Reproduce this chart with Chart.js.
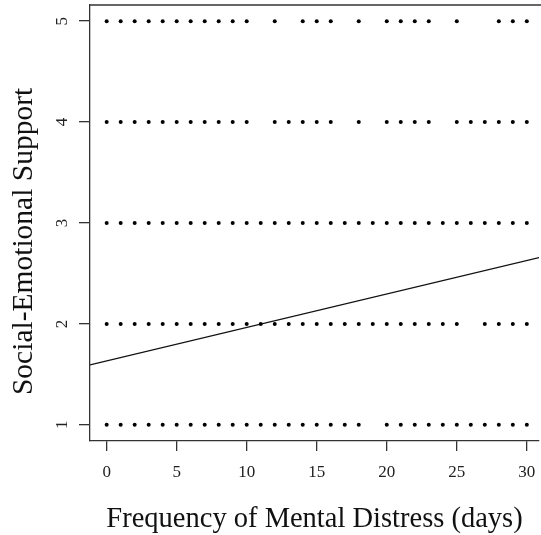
<!DOCTYPE html>
<html>
<head>
<meta charset="utf-8">
<title>Social-Emotional Support vs Mental Distress</title>
<script src="https://cdn.jsdelivr.net/npm/chart.js@4"></script>
<style>
    html, body { margin: 0; padding: 0; background: #fff; overflow: hidden; }
    #wrap { width: 541px; height: 535px; position: relative; }
</style>
</head>
<body>
<div id="wrap"><canvas id="scatterChart"></canvas></div>
<script>
// Days (x) observed at each support level (y)
const level5Days = [0, 1, 2, 3, 4, 5, 6, 7, 8, 9, 10, 12, 14, 15, 16, 18, 20, 21, 22, 23, 25, 28, 29, 30];
const level4Days = [0, 1, 2, 3, 4, 5, 6, 7, 8, 9, 10, 12, 13, 14, 15, 16, 18, 20, 21, 22, 23, 25, 26, 27, 28, 29, 30];
const level3Days = [0, 1, 2, 3, 4, 5, 6, 7, 8, 9, 10, 11, 12, 13, 14, 15, 16, 17, 18, 19, 20, 21, 22, 23, 24, 25, 26, 27, 28, 29, 30];
const level2Days = [0, 1, 2, 3, 4, 5, 6, 7, 8, 9, 10, 11, 12, 13, 14, 15, 16, 17, 18, 19, 20, 21, 22, 23, 24, 25, 27, 28, 29, 30];
const level1Days = [0, 1, 2, 3, 4, 5, 6, 7, 8, 9, 10, 11, 12, 13, 14, 15, 16, 17, 18, 20, 21, 22, 23, 24, 25, 26, 27, 28, 29, 30];

const supportLevels = [5, 4, 3, 2, 1];
const daysByLevel = [level5Days, level4Days, level3Days, level2Days, level1Days];

// Fitted regression line, read at the plot edges
const fitX = [-1.19, 30.87];
const fitY = [1.595, 2.657];

const xTicks = [0, 5, 10, 15, 20, 25, 30];
const yTicks = [1, 2, 3, 4, 5];

const SERIF = "'Liberation Serif', 'Times New Roman', serif";
const AXIS_COLOR = '#333';

document.addEventListener('DOMContentLoaded', function() {
    initScatterChart();
});

// draws the top edge of the box (left / bottom come from the axes)
const boxTopPlugin = {
    id: 'boxTop',
    afterDatasetsDraw(chart) {
        const { ctx, chartArea } = chart;
        ctx.save();
        ctx.strokeStyle = AXIS_COLOR;
        ctx.lineWidth = 1.3;
        ctx.beginPath();
        ctx.moveTo(chartArea.left, chartArea.top);
        ctx.lineTo(chartArea.right + 2, chartArea.top);
        ctx.stroke();
        ctx.restore();
    }
};

function initScatterChart() {
    const ctx = document.getElementById('scatterChart').getContext('2d');

    const pointSets = supportLevels.map((level, i) => ({
        type: 'scatter',
        label: 'Support ' + level,
        data: daysByLevel[i].map(d => ({ x: d, y: level })),
        backgroundColor: '#000',
        borderWidth: 0,
        pointRadius: 2,
        pointHoverRadius: 2
    }));

    new Chart(ctx, {
        data: {
            datasets: [
                ...pointSets,
                {
                    type: 'line',
                    label: 'Fit',
                    data: fitX.map((x, i) => ({ x: x, y: fitY[i] })),
                    borderColor: '#111',
                    borderWidth: 1.3,
                    pointRadius: 0,
                    fill: false
                }
            ]
        },
        options: {
            responsive: true,
            maintainAspectRatio: false,
            animation: false,
            layout: {
                padding: { top: 5, right: 0, bottom: 0, left: 0 }
            },
            plugins: {
                legend: { display: false },
                tooltip: { enabled: false }
            },
            scales: {
                x: {
                    type: 'linear',
                    min: -1.19,
                    max: 30.87,
                    afterBuildTicks: s => { s.ticks = xTicks.map(v => ({ value: v })); },
                    afterFit: s => {
                        s.height = 94;
                        s.paddingLeft = 0;
                        s.paddingRight = 0;
                    },
                    grid: {
                        drawOnChartArea: false,
                        tickLength: 10,
                        color: AXIS_COLOR,
                        lineWidth: 1.3
                    },
                    border: { display: true, color: AXIS_COLOR, width: 1.3 },
                    ticks: {
                        maxRotation: 0,
                        padding: 11,
                        color: '#222',
                        font: { family: SERIF, size: 17 }
                    },
                    title: {
                        display: true,
                        text: 'Frequency of Mental Distress (days)',
                        color: '#111',
                        font: { family: SERIF, size: 28.5, lineHeight: 1 },
                        padding: { top: 0, bottom: 1 }
                    }
                },
                y: {
                    type: 'linear',
                    min: 0.84,
                    max: 5.16,
                    afterBuildTicks: s => { s.ticks = yTicks.map(v => ({ value: v })); },
                    afterFit: s => {
                        s.width = 90;
                        s.paddingTop = 0;
                        s.paddingBottom = 0;
                    },
                    grid: {
                        drawOnChartArea: false,
                        tickLength: 11,
                        color: AXIS_COLOR,
                        lineWidth: 1.3
                    },
                    border: { display: true, color: AXIS_COLOR, width: 1.3 },
                    ticks: {
                        minRotation: 90,
                        maxRotation: 90,
                        crossAlign: 'center',
                        padding: 12.5,
                        color: '#222',
                        font: { family: SERIF, size: 17 }
                    },
                    title: {
                        display: true,
                        // trailing spaces push the label down as in the original
                        text: 'Social-Emotional Support\u00A0\u00A0\u00A0\u00A0\u00A0',
                        color: '#111',
                        font: { family: SERIF, size: 29.5, lineHeight: 1 },
                        padding: { top: 9, bottom: 0 }
                    }
                }
            }
        },
        plugins: [boxTopPlugin]
    });
}
</script>
</body>
</html>
